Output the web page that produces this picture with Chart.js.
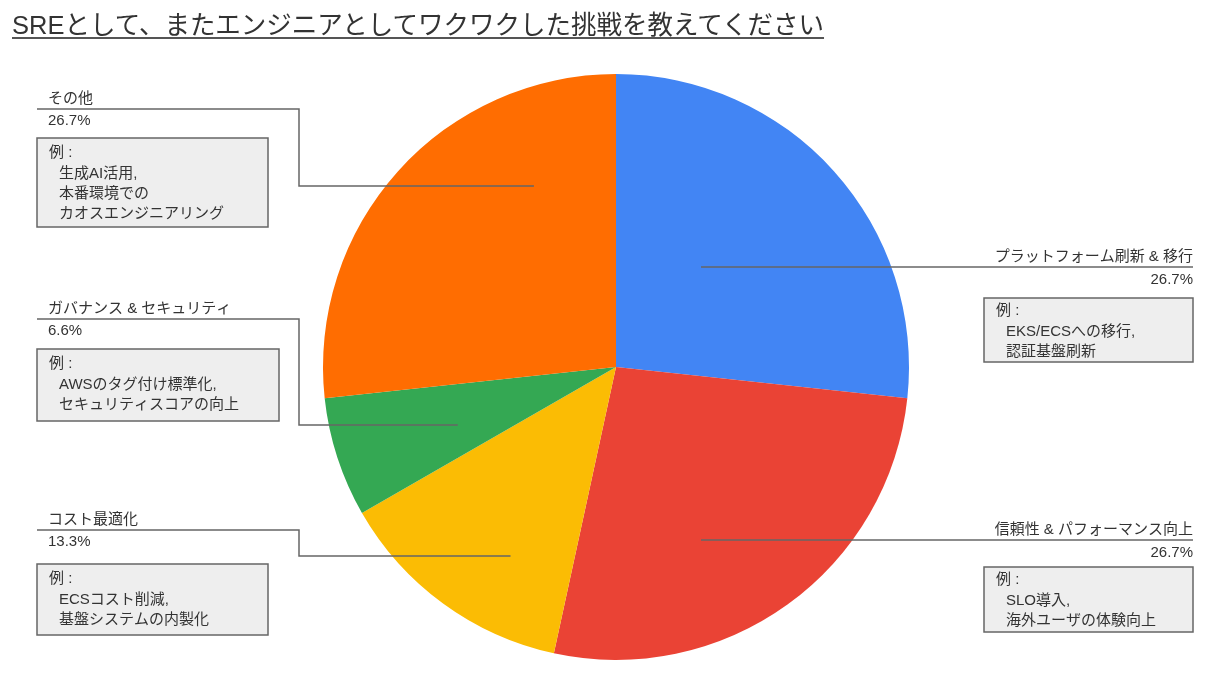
<!DOCTYPE html>
<html lang="ja">
<head>
<meta charset="UTF-8">
<title>SREとして、またエンジニアとしてワクワクした挑戦を教えてください</title>
<script src="https://cdn.jsdelivr.net/npm/chart.js"></script>
<style>
    body {
        margin: 0;
        background: #fff;
        font-family: "Liberation Sans", "Noto Sans CJK JP", sans-serif;
    }
    .wrap {
        position: relative;
        width: 1232px;
        height: 693px;
        overflow: hidden;
    }
    .title {
        position: absolute;
        left: 12px;
        top: 4px;
        margin: 0;
        font-size: 26px;
        font-weight: normal;
        color: #333;
        white-space: nowrap;
        text-decoration: underline;
        text-decoration-thickness: 2px;
        text-underline-offset: 3px;
        text-decoration-color: #555;
        transform-origin: left top;
    }
    canvas {
        position: absolute;
        left: 0;
        top: 0;
    }
</style>
</head>
<body>
<div class="wrap">
    <canvas id="pie" width="1232" height="693"></canvas>
    <h1 class="title" id="title">SREとして、またエンジニアとしてワクワクした挑戦を教えてください</h1>
</div>

<script>
// categories and values (percent)
const categories = ['プラットフォーム刷新 & 移行', '信頼性 & パフォーマンス向上', 'コスト最適化', 'ガバナンス & セキュリティ', 'その他'];
const shares = [26.7, 26.7, 13.3, 6.6, 26.7];
const examples = [
    ['EKS/ECSへの移行,', '認証基盤刷新'],
    ['SLO導入,', '海外ユーザの体験向上'],
    ['ECSコスト削減,', '基盤システムの内製化'],
    ['AWSのタグ付け標準化,', 'セキュリティスコアの向上'],
    ['生成AI活用,', '本番環境での', 'カオスエンジニアリング']
];
const colors = ['#4285f4', '#ea4335', '#fbbc04', '#34a853', '#ff6d01'];

// label placement (layout only): anchor = point inside the slice, in radius units from centre
const layout = [
    { side: 'right', anchor: [0.29, -0.34], lineY: 267, box: [984, 298, 209, 64] },
    { side: 'right', anchor: [0.29, 0.59], lineY: 540, box: [984, 567, 209, 65] },
    { side: 'left', anchor: [-0.36, 0.64], lineY: 530, elbowY: 556, box: [37, 564, 231, 71] },
    { side: 'left', anchor: [-0.54, 0.2], lineY: 319, elbowY: 425, box: [37, 349, 242, 72] },
    { side: 'left', anchor: [-0.28, -0.62], lineY: 109, elbowY: 186, box: [37, 138, 231, 89] }
];

// squeeze the title to the width it has in the reference
const title = document.getElementById('title');
title.style.transform = 'scaleX(' + (812 / title.scrollWidth) + ')';

const FONT = '15px "Liberation Sans", "Noto Sans CJK JP", sans-serif';
const INK = '#333';
const LINE = '#666';

const labelPlugin = {
    id: 'labels',
    afterDatasetsDraw(chart) {
        const ctx = chart.ctx;
        const arcs = chart.getDatasetMeta(0).data;
        ctx.save();
        ctx.font = FONT;
        ctx.textBaseline = 'middle';
        arcs.forEach((arc, i) => {
            const L = layout[i];
            const r = arc.outerRadius;
            const ax = arc.x + L.anchor[0] * r;
            const ay = arc.y + L.anchor[1] * r;
            const [bx, by, bw, bh] = L.box;

            // leader line
            ctx.strokeStyle = LINE;
            ctx.lineWidth = 1.5;
            ctx.beginPath();
            if (L.side === 'right') {
                ctx.moveTo(ax, L.lineY);
                ctx.lineTo(bx + bw, L.lineY);
            } else {
                ctx.moveTo(bx, L.lineY);
                ctx.lineTo(299, L.lineY);
                ctx.lineTo(299, L.elbowY);
                ctx.lineTo(ax, L.elbowY);
            }
            ctx.stroke();

            // name and share
            ctx.fillStyle = INK;
            const pct = shares[i].toFixed(1) + '%';
            if (L.side === 'right') {
                ctx.textAlign = 'right';
                ctx.fillText(categories[i], bx + bw, L.lineY - 10);
                ctx.fillText(pct, bx + bw, L.lineY + 13);
            } else {
                ctx.textAlign = 'left';
                ctx.fillText(categories[i], 48, L.lineY - 10);
                ctx.fillText(pct, 48, L.lineY + 12);
            }

            // example box
            ctx.fillStyle = '#eeeeee';
            ctx.fillRect(bx, by, bw, bh);
            ctx.strokeStyle = LINE;
            ctx.lineWidth = 1.5;
            ctx.strokeRect(bx, by, bw, bh);
            ctx.fillStyle = INK;
            ctx.textAlign = 'left';
            const tx = bx + 12;
            const top = by + (L.side === 'right' ? 13 : 15);
            ctx.fillText('例 :', tx, top);
            examples[i].forEach((t, k) => {
                ctx.fillText(t, tx + 10, top + 20 * (k + 1) + 1);
            });
        });
        ctx.restore();
    }
};

new Chart(document.getElementById('pie'), {
    type: 'pie',
    data: {
        labels: categories,
        datasets: [{
            data: shares,
            backgroundColor: colors,
            borderWidth: 0
        }]
    },
    options: {
        responsive: false,
        animation: false,
        layout: { padding: { top: 74, bottom: 33, left: 0, right: 0 } },
        plugins: {
            legend: { display: false },
            tooltip: { enabled: false }
        }
    },
    plugins: [labelPlugin]
});
</script>
</body>
</html>
